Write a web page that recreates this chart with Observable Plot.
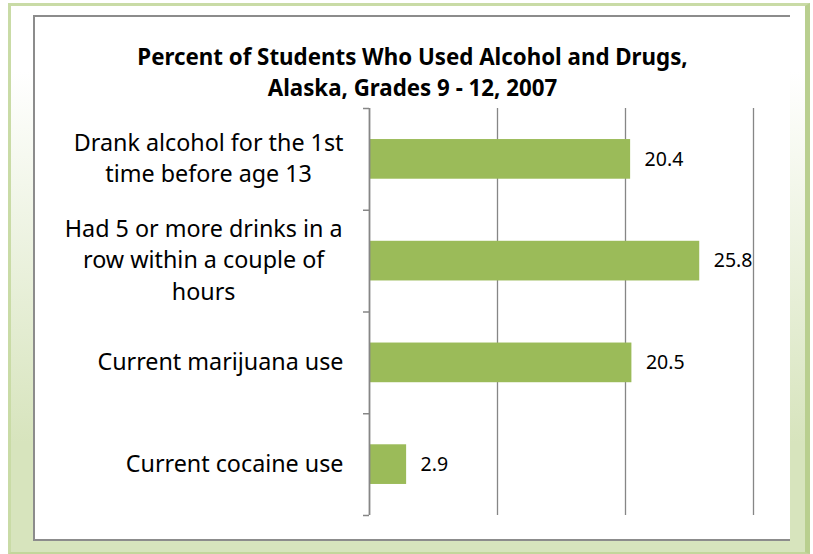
<!DOCTYPE html>
<html>
<head>
<meta charset="utf-8">
<script src="https://cdn.jsdelivr.net/npm/d3@7"></script>
<script src="https://cdn.jsdelivr.net/npm/@observablehq/plot@0.6"></script>
<style>
  html, body { margin: 0; padding: 0; background: #fff; }
  #wrap { position: relative; width: 813px; height: 554px; overflow: hidden; font-family: "Noto Sans", sans-serif; }
  #outer { position: absolute; left: 8px; top: 3px; width: 794px; height: 546px;
    background: linear-gradient(to bottom, #ffffff 0%, #ffffff 12%, #d7e4bd 80%, #d7e4bd 100%);
    border-left: 3px solid #c9dba6; border-top: 3px solid #c9dba6; border-right: 5px solid #b9cf8f; border-bottom: 2px solid #c3d69b; }
  #inner { position: absolute; left: 33px; top: 15px; width: 755px; height: 522px; background: #fff;
    border-left: 2px solid #8c8c8c; border-top: 2px solid #8c8c8c; border-bottom: 2px solid #8c8c8c; }
  #title { position: absolute; left: 0; top: 41px; width: 825px; text-align: center; font-weight: bold;
    font-size: 22.3px; line-height: 31px; color: #000; }
  #chart { position: absolute; left: 0; top: 0; }
</style>
</head>
<body>
<div id="wrap">
  <div id="outer"></div>
  <div id="inner"></div>
  <div id="title">Percent of Students Who Used Alcohol and Drugs,<br>Alaska, Grades 9 - 12, 2007</div>
  <div id="chart"></div>
</div>
<script>
const categories = [
  "Drank alcohol for the 1st\ntime before age 13",
  "Had 5 or more drinks in a\nrow within a couple of\nhours",
  "Current marijuana use",
  "Current cocaine use"
];
const values = [20.4, 25.8, 20.5, 2.9];
const xTicks = [0, 10, 20, 30];

const data = categories.map((c, i) => ({ category: c, index: i, value: values[i] }));
const barPad = 0.305;

const plot = Plot.plot({
  width: 813,
  height: 554,
  marginLeft: 369,
  marginRight: 60,
  marginTop: 108,
  marginBottom: 39,
  style: { background: "none", fontFamily: "Noto Sans, sans-serif", color: "#000" },
  x: { domain: [0, 30], axis: null },
  y: { domain: [0, categories.length], reverse: true, axis: null },
  marks: [
    Plot.ruleX(xTicks.slice(1), { stroke: "#868686", strokeWidth: 1.3, strokeOpacity: 1 }),
    Plot.axisY(d3.range(categories.length + 1), {
      anchor: "left", tickSize: 6, tickFormat: () => "", stroke: "#868686", strokeWidth: 1.5, strokeOpacity: 1
    }),
    Plot.axisY(data.map(d => d.index + 0.5), {
      anchor: "left", tickSize: 0, tickPadding: 26,
      tickFormat: v => categories[Math.floor(v)],
      fontSize: 23.3, lineHeight: 1.35, fill: "#000", dy: -3
    }),
    Plot.rect(data, {
      x1: 0, x2: "value",
      y1: d => d.index + barPad, y2: d => d.index + 1 - barPad,
      fill: "#9bbb59"
    }),
    Plot.ruleX([0], { stroke: "#868686", strokeWidth: 1.8, strokeOpacity: 1 }),
    Plot.text(data, {
      x: "value", y: d => d.index + 0.5, text: d => d.value.toFixed(1),
      textAnchor: "start", dx: 14, fontSize: 19.5, fill: "#000"
    })
  ]
});
document.getElementById("chart").appendChild(plot);

// center the lines of each multi-line category label within its own block (Excel style)
plot.querySelectorAll("g[aria-label='y-axis tick label'] text").forEach(t => {
  const tspans = t.querySelectorAll("tspan");
  if (tspans.length > 1) {
    const w = t.getBBox().width;
    t.setAttribute("text-anchor", "middle");
    const tr = t.getAttribute("transform") || "";
    t.setAttribute("transform", tr + ` translate(${-w / 2},0)`);
  }
});
</script>
</body>
</html>
